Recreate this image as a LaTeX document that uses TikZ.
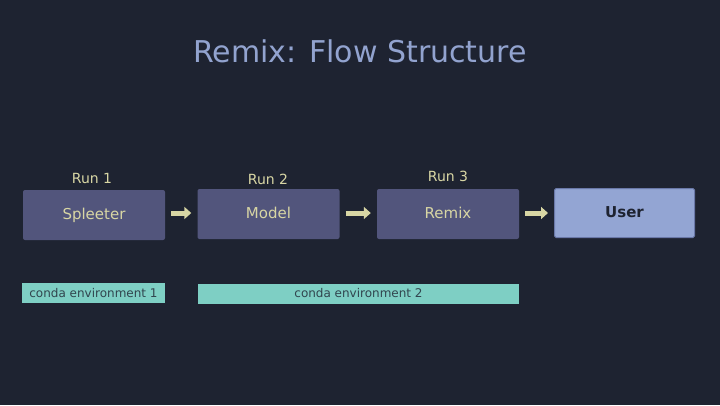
\documentclass[tikz,border=0pt]{standalone}
\usepackage{fontspec}
\setmainfont{DejaVu Sans}
\usetikzlibrary{arrows.meta}
\definecolor{bg}{HTML}{1E2331}
\definecolor{boxc}{HTML}{52557C}
\definecolor{userc}{HTML}{93A5D3}
\definecolor{userb}{HTML}{6A78A8}
\definecolor{txt}{HTML}{D8D6A4}
\definecolor{titlec}{HTML}{92A3CF}
\definecolor{envc}{HTML}{7ECFC4}
\begin{document}
\begin{tikzpicture}[x=1pt,y=-1pt,
  stepbox/.style={fill=boxc, rounded corners=2pt, minimum width=142pt, minimum height=50pt, text=txt, font=\fontsize{15}{17}\selectfont, inner sep=0pt, text height=11pt, text depth=3pt},
  userbox/.style={fill=userc, draw=userb, line width=1pt, rounded corners=1.5pt, minimum width=140pt, minimum height=49pt, text=bg, font=\fontsize{15}{17}\selectfont\bfseries, inner sep=0pt, text height=11pt, text depth=3pt},
  runlabel/.style={text=txt, font=\fontsize{14}{16}\selectfont, inner sep=0pt},
  envbox/.style={fill=envc, minimum height=20pt, text=bg!80!envc, font=\fontsize{12}{14}\selectfont, inner sep=0pt},
  flowarrow/.style={draw=txt, line width=5pt, -{Triangle[length=7pt,width=12pt]}, shorten <=6pt, shorten >=6pt}
]
\fill[bg] (0,0) rectangle (720,405);
\useasboundingbox (0,0) rectangle (720,405);
\node[text=titlec, font=\fontsize{30}{34}\selectfont] (title) at (360,51) {Remix: Flow Structure};
\node[stepbox] (spl) at (94,215) {Spleeter};
\node[stepbox] (mod) at (268.5,214) {Model};
\node[stepbox] (rem) at (448,214) {Remix};
\node[userbox] (usr) at (624.5,213) {User};
\node[runlabel] (r1) at (92,178) {Run 1};
\node[runlabel] (r2) at (268,179) {Run 2};
\node[runlabel] (r3) at (448,176) {Run 3};
\draw[flowarrow] (spl.east |- 0,213) -- (mod.west |- 0,213);
\draw[flowarrow] (mod.east |- 0,213) -- (rem.west |- 0,213);
\draw[flowarrow] (rem.east |- 0,213) -- (usr.west |- 0,213);
\node[envbox, minimum width=143pt] (env1) at (93.5,293) {conda environment 1};
\node[envbox, minimum width=321pt] (env2) at (358.5,293.5) {conda environment 2};
\end{tikzpicture}
\end{document}
